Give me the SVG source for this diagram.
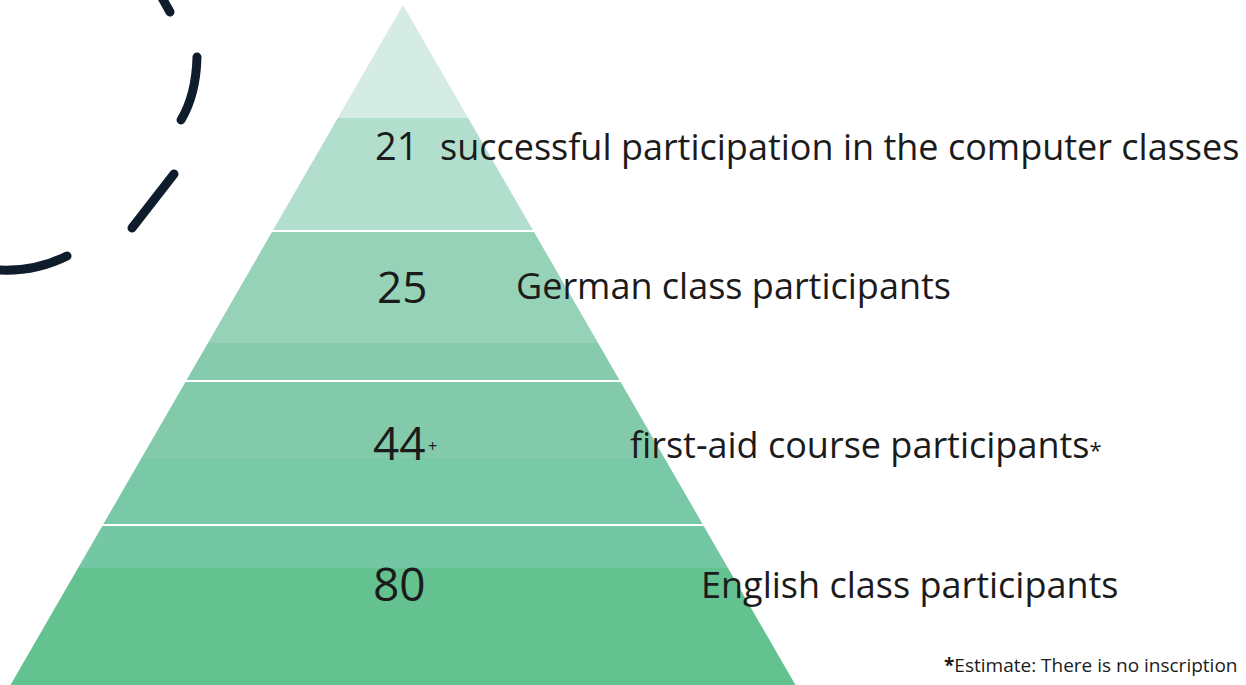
<svg xmlns="http://www.w3.org/2000/svg" width="1246" height="685" viewBox="0 0 1246 685">
<style>
.t{font-family:"Open Sans","Noto Sans","Liberation Sans",sans-serif;fill:#1b1b1b}
.lbl{font-size:36px}
.num{font-size:38px}
.big{font-size:46px}
.dash{fill:none;stroke:#0e1c2b;stroke-width:9;stroke-linecap:round}
.sep{stroke:#ffffff;stroke-width:2}
</style>
<defs>
<clipPath id="pyr"><polygon points="403,5 795.5,685 10.5,685"/></clipPath>
</defs>
<rect width="1246" height="685" fill="#ffffff"/>
<g id="decor">
<path class="dash" d="M161,-4 L170,12"/>
<path class="dash" d="M197,57 Q196,95 181,120"/>
<path class="dash" d="M174,174 L132,228"/>
<path class="dash" d="M67,256 Q35,272 -2,270"/>
</g>
<g id="pyramid" clip-path="url(#pyr)">
<rect x="0" y="0" width="1246" height="118" fill="#d5ece4"/>
<rect x="0" y="118" width="1246" height="113" fill="#b2dfcd"/>
<rect x="0" y="231" width="1246" height="112" fill="#96d2b8"/>
<rect x="0" y="343" width="1246" height="38" fill="#86cbae"/>
<rect x="0" y="381" width="1246" height="77" fill="#83caab"/>
<rect x="0" y="458" width="1246" height="67" fill="#79c8a7"/>
<rect x="0" y="525" width="1246" height="43" fill="#74c7a5"/>
<rect x="0" y="568" width="1246" height="117" fill="#64c190"/>
</g>
<g id="connectors">
<line class="sep" x1="272" y1="231" x2="534" y2="231"/>
<line class="sep" x1="185" y1="381" x2="621" y2="381"/>
<line class="sep" x1="101" y1="525" x2="705" y2="525"/>
</g>
<g id="level1">
<text class="t num" x="375" y="160">21</text>
<text class="t lbl" x="440" y="160">successful participation in the computer classes</text>
</g>
<g id="level2">
<text class="t" x="377" y="303" font-size="44">25</text>
<text class="t lbl" x="516" y="299">German class participants</text>
</g>
<g id="level3">
<text class="t big" x="373" y="460">44</text>
<text class="t" x="428" y="452" font-size="16">+</text>
<text class="t lbl" x="630" y="458">first-aid course participants<tspan font-size="22">*</tspan></text>
</g>
<g id="level4">
<text class="t big" x="373" y="601">80</text>
<text class="t lbl" x="701" y="598">English class participants</text>
</g>
<g id="footnote">
<text class="t" x="944" y="672" font-size="19"><tspan font-weight="bold">*</tspan>Estimate: There is no inscription</text>
</g>
</svg>
